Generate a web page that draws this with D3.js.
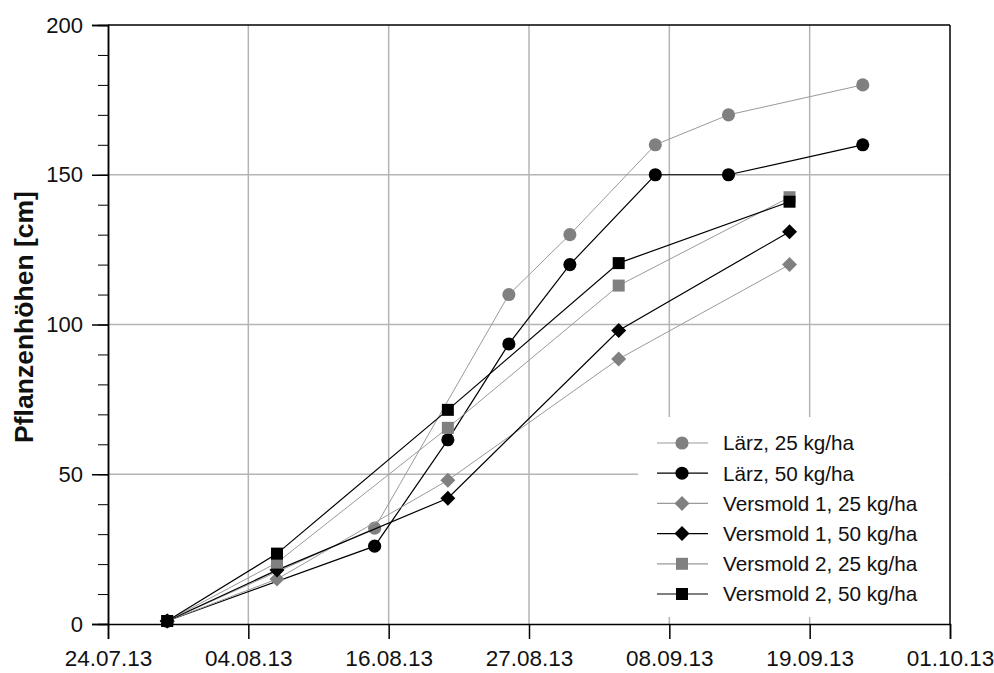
<!DOCTYPE html>
<html>
<head>
<meta charset="utf-8">
<script src="https://cdn.jsdelivr.net/npm/d3@7"></script>
<style>
  body { margin: 0; background: #fff; }
  svg { font-family: "Liberation Sans", Arial, sans-serif; }
</style>
</head>
<body>
<div id="chart"></div>
<script>
// tick labels of the date axis (evenly spaced, 11.5 days apart)
var tickLabels = ["24.07.13", "04.08.13", "16.08.13", "27.08.13", "08.09.13", "19.09.13", "01.10.13"];
var yTicks = [0, 50, 100, 150, 200];

// measuring dates
var laerzDates25 = ["29.07.13", "15.08.13", "26.08.13", "31.08.13", "07.09.13", "13.09.13", "24.09.13"];
var laerzDates50 = ["29.07.13", "15.08.13", "21.08.13", "26.08.13", "31.08.13", "07.09.13", "13.09.13", "24.09.13"];
var versmoldDates = ["29.07.13", "07.08.13", "21.08.13", "04.09.13", "18.09.13"];

// plant heights [cm]
var laerz25 = [1, 32, 110, 130, 160, 170, 180];
var laerz50 = [1, 26, 61.5, 93.5, 120, 150, 150, 160];
var versmold1_25 = [1, 15, 48, 88.5, 120];
var versmold1_50 = [1, 18, 42, 98, 131];
var versmold2_25 = [1, 20.5, 65.5, 113, 142.5];
var versmold2_50 = [1, 23.5, 71.5, 120.5, 141];

var seriesNames = ["Lärz, 25 kg/ha", "Lärz, 50 kg/ha", "Versmold 1, 25 kg/ha",
                   "Versmold 1, 50 kg/ha", "Versmold 2, 25 kg/ha", "Versmold 2, 50 kg/ha"];

var parseDate = d3.utcParse("%d.%m.%y");

var series = [
    {name: seriesNames[0], dates: laerzDates25, values: laerz25, symbol: "circle", color: "#808080", line: "#9a9a9a"},
    {name: seriesNames[1], dates: laerzDates50, values: laerz50, symbol: "circle", color: "#000", line: "#000"},
    {name: seriesNames[2], dates: versmoldDates, values: versmold1_25, symbol: "diamond", color: "#808080", line: "#9a9a9a"},
    {name: seriesNames[3], dates: versmoldDates, values: versmold1_50, symbol: "diamond", color: "#000", line: "#000"},
    {name: seriesNames[4], dates: versmoldDates, values: versmold2_25, symbol: "square", color: "#808080", line: "#9a9a9a"},
    {name: seriesNames[5], dates: versmoldDates, values: versmold2_50, symbol: "square", color: "#000", line: "#000"}
];
series.forEach(function(s) {
    s.points = s.dates.map(function(d, i) { return {date: parseDate(d), value: s.values[i]}; });
});

var width = 994, height = 673;
var margin = {top: 25, right: 44, bottom: 49, left: 108};
var plotW = width - margin.left - margin.right;
var plotH = height - margin.top - margin.bottom;

// axis starts a few hours after midnight; ticks every 11.5 days
var dayMs = 24 * 3600 * 1000;
var start = new Date(parseDate(tickLabels[0]).getTime() + 0.15 * dayMs);
var tickDates = tickLabels.map(function(l, i) { return new Date(start.getTime() + i * 11.5 * dayMs); });

var x = d3.scaleUtc()
    .domain([tickDates[0], tickDates[tickDates.length - 1]])
    .range([0, plotW]);

var y = d3.scaleLinear()
    .domain([0, 200])
    .range([plotH, 0]);

var svg = d3.select("#chart").append("svg")
    .attr("width", width)
    .attr("height", height);

var g = svg.append("g")
    .attr("transform", "translate(" + margin.left + "," + margin.top + ")");

// grid
g.selectAll(".vgrid").data(tickDates.slice(1, -1))
    .enter().append("line")
    .attr("x1", function(d) { return x(d); })
    .attr("x2", function(d) { return x(d); })
    .attr("y1", 0).attr("y2", plotH)
    .attr("stroke", "#b4b4b4").attr("stroke-width", 1.5);
g.selectAll(".hgrid").data(yTicks.slice(1, -1))
    .enter().append("line")
    .attr("x1", 0).attr("x2", plotW)
    .attr("y1", function(d) { return y(d); })
    .attr("y2", function(d) { return y(d); })
    .attr("stroke", "#b4b4b4").attr("stroke-width", 1.5);

// legend background covers the grid
var legendX = 530, legendY = 392;
g.append("rect")
    .attr("x", legendX).attr("y", legendY)
    .attr("width", plotW - legendX - 1).attr("height", plotH - legendY - 7)
    .attr("fill", "#fff");

function symbolPath(type) {
    if (type === "circle") return d3.symbol().type(d3.symbolCircle).size(135)();
    if (type === "square") return d3.symbol().type(d3.symbolSquare).size(144)();
    return d3.symbol().type(d3.symbolSquare).size(112)();
}
function symbolTransform(type, px, py) {
    return "translate(" + px + "," + py + ")" + (type === "diamond" ? " rotate(45)" : "");
}

var line = d3.line()
    .x(function(d) { return x(d.date); })
    .y(function(d) { return y(d.value); });

series.forEach(function(s) {
    var sg = g.append("g");
    sg.append("path")
        .datum(s.points)
        .attr("d", line)
        .attr("fill", "none")
        .attr("stroke", s.line)
        .attr("stroke-width", s.color === "#000" ? 1.2 : 1);
    sg.selectAll("path.marker").data(s.points)
        .enter().append("path")
        .attr("class", "marker")
        .attr("d", symbolPath(s.symbol))
        .attr("transform", function(d) { return symbolTransform(s.symbol, x(d.date), y(d.value)); })
        .attr("fill", s.color);
});

// legend entries
var legend = g.append("g");
series.forEach(function(s, i) {
    var ly = legendY + 26 + i * 30.2;
    var lx = legendX + 19;
    legend.append("line")
        .attr("x1", lx).attr("x2", lx + 51)
        .attr("y1", ly).attr("y2", ly)
        .attr("stroke", s.line).attr("stroke-width", 1.2);
    legend.append("path")
        .attr("d", symbolPath(s.symbol))
        .attr("transform", symbolTransform(s.symbol, lx + 25, ly))
        .attr("fill", s.color);
    legend.append("text")
        .attr("x", lx + 66).attr("y", ly)
        .attr("dy", "0.36em")
        .attr("font-size", "20.7px")
        .attr("fill", "#111")
        .text(s.name);
});

// frame top and right
g.append("line").attr("x1", 0).attr("x2", plotW).attr("y1", 0).attr("y2", 0)
    .attr("stroke", "#000").attr("stroke-width", 1.5);
g.append("line").attr("x1", plotW).attr("x2", plotW).attr("y1", 0).attr("y2", plotH)
    .attr("stroke", "#000").attr("stroke-width", 1.5);

// x axis
var xAxis = d3.axisBottom(x)
    .tickValues(tickDates)
    .tickSize(15)
    .tickPadding(11)
    .tickFormat(function(d, i) { return tickLabels[i]; });
var xg = g.append("g")
    .attr("transform", "translate(0," + plotH + ")")
    .call(xAxis);

// y axis, minor ticks every 10
var yMinor = d3.axisLeft(y).ticks(20).tickSize(10).tickFormat("");
g.append("g").call(yMinor);
var yAxis = d3.axisLeft(y)
    .tickValues(yTicks)
    .tickSize(16)
    .tickPadding(9);
var yg = g.append("g").call(yAxis);

[xg, yg].forEach(function(a) {
    a.selectAll("path").attr("stroke", "#000").attr("stroke-width", 1.5);
    a.selectAll("line").attr("stroke", "#000").attr("stroke-width", 1.5);
    a.selectAll("text").attr("font-size", "22px").attr("fill", "#111")
        .attr("font-family", "'Liberation Sans', Arial, sans-serif");
});
xg.selectAll("text").attr("font-size", "22.5px");
g.selectAll(".domain").attr("stroke-width", 1.5);

// y axis title
svg.append("text")
    .attr("transform", "translate(33," + (margin.top + 292) + ") rotate(-90)")
    .attr("text-anchor", "middle")
    .attr("font-size", "26.5px")
    .attr("font-weight", "bold")
    .attr("fill", "#111")
    .text("Pflanzenhöhen [cm]");
</script>
</body>
</html>
